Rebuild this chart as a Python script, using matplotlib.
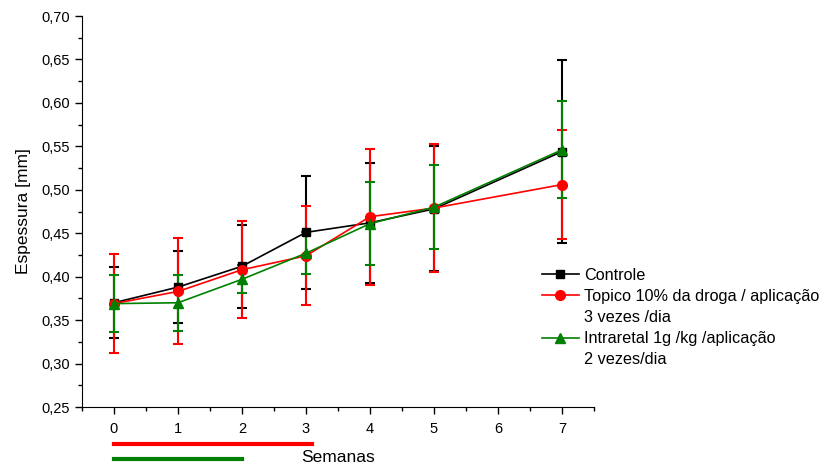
import numpy as np
from matplotlib import pyplot as plt
from matplotlib import transforms
from matplotlib.lines import Line2D
from matplotlib.ticker import FuncFormatter, MultipleLocator

plt.rcParams['font.family'] = ['Liberation Sans', 'DejaVu Sans']

semanas = [0, 1, 2, 3, 4, 5, 7]

controle = [0.370, 0.388, 0.412, 0.451, 0.462, 0.478, 0.544]
controle_sd = [0.041, 0.041, 0.048, 0.065, 0.069, 0.072, 0.105]

topico = [0.369, 0.383, 0.408, 0.424, 0.469, 0.479, 0.506]
topico_sd = [0.057, 0.061, 0.056, 0.057, 0.078, 0.074, 0.063]

intraretal = [0.369, 0.370, 0.397, 0.427, 0.461, 0.480, 0.546]
intraretal_sd = [0.033, 0.032, 0.016, 0.024, 0.048, 0.048, 0.056]

labels = ['Controle',
          'Topico 10% da droga / aplicação\n3 vezes /dia',
          'Intraretal 1g /kg /aplicação\n2 vezes/dia']

# treatment periods (weeks) drawn under the axis
periodo_topico = [0, 3.1]
periodo_intraretal = [0, 2.0]

fig = plt.figure(figsize=(8.29, 4.68), dpi=100)
ax = fig.add_axes([0.0989, 0.1303, 0.6176, 0.8355])

series = [
    (controle, controle_sd, 'black', 's', 6),
    (topico, topico_sd, 'red', 'o', 7),
    (intraretal, intraretal_sd, 'green', '^', 7),
]
handles, leg_labels = [], []
for (y, sd, c, m, ms), lab in zip(series, labels):
    ax.errorbar(semanas, y, yerr=sd, color=c, marker=m, markersize=ms,
                linewidth=1.2, elinewidth=1.5, capsize=3.5, capthick=1.5)
    # first line of the label gets the symbol, the rest hang under it
    lines = lab.split('\n')
    handles.append(Line2D([], [], color=c, marker=m, markersize=ms, linewidth=1.2))
    leg_labels.append(lines[0])
    for extra in lines[1:]:
        handles.append(Line2D([], [], linestyle='none'))
        leg_labels.append(extra)

ax.set_xlim(-0.5, 7.5)
ax.set_ylim(0.25, 0.70)
ax.xaxis.set_major_locator(MultipleLocator(1))
ax.xaxis.set_minor_locator(MultipleLocator(0.5))
ax.yaxis.set_major_locator(MultipleLocator(0.05))
ax.yaxis.set_minor_locator(MultipleLocator(0.025))
ax.yaxis.set_major_formatter(FuncFormatter(lambda v, p: f'{v:.2f}'.replace('.', ',')))
ax.tick_params(which='major', direction='out', length=5, width=1, labelsize=10.5)
ax.tick_params(axis='x', which='major', pad=6)
ax.tick_params(which='minor', direction='out', length=3, width=1)
ax.spines['top'].set_visible(False)
ax.spines['right'].set_visible(False)

ax.set_ylabel('Espessura [mm]', fontsize=12.5)
ax.yaxis.set_label_coords(-0.1, 0.5)
ax.set_xlabel('Semanas', fontsize=12.5, va='center')
ax.xaxis.set_label_coords(0.5, -0.128)

trans = transforms.blended_transform_factory(ax.transData, ax.transAxes)
ax.plot(periodo_topico, [-0.094, -0.094], color='red', linewidth=3,
        transform=trans, clip_on=False)
ax.plot(periodo_intraretal, [-0.132, -0.132], color='green', linewidth=3,
        transform=trans, clip_on=False)

leg = ax.legend(handles, leg_labels, loc='upper left', bbox_to_anchor=(0.885, 0.373),
                frameon=False, fontsize=11.7, handlelength=2.3, handletextpad=0.3,
                labelspacing=0.38, borderaxespad=0, numpoints=1)

fig.savefig('out.png', dpi=100)
